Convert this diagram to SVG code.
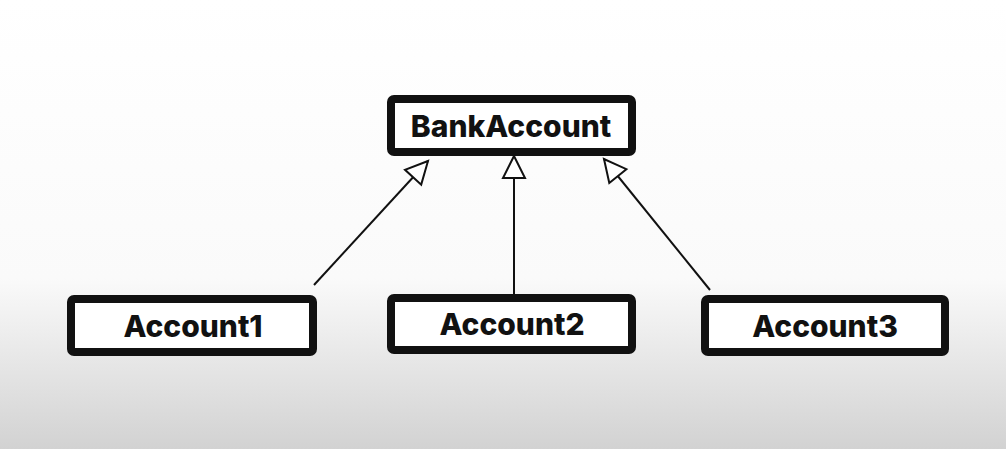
<svg xmlns="http://www.w3.org/2000/svg" width="1006" height="449" viewBox="0 0 1006 449">
<defs>
<linearGradient id="bg" x1="0" y1="0" x2="0" y2="1">
<stop offset="0" stop-color="#ffffff"/>
<stop offset="0.62" stop-color="#fafafa"/>
<stop offset="1" stop-color="#d2d2d2"/>
</linearGradient>
<marker id="tri" markerUnits="userSpaceOnUse" markerWidth="30" markerHeight="30" viewBox="-26 -14 30 28" refX="0" refY="0" orient="auto">
<path d="M0,0 L-22,-11 L-22,11 Z" fill="#fff" stroke="#111" stroke-width="2" stroke-linejoin="miter"/>
</marker>
<style>
.box{fill:#fff;stroke:#111;stroke-width:8;}
.lbl{font-family:Inter,"Liberation Sans",sans-serif;font-weight:800;font-size:30px;fill:#111;text-anchor:middle;}
.conn{stroke:#111;stroke-width:2;fill:none;}
</style>
</defs>
<rect x="0" y="0" width="1006" height="449" fill="url(#bg)"/>
<g id="connectors">
<line class="conn" x1="314" y1="285" x2="428" y2="161" marker-end="url(#tri)"/>
<line class="conn" x1="514" y1="294" x2="514" y2="156" marker-end="url(#tri)"/>
<line class="conn" x1="710" y1="290" x2="604" y2="159" marker-end="url(#tri)"/>
</g>
<g id="BankAccount">
<rect class="box" x="391" y="99" width="241" height="53" rx="3"/>
<text class="lbl" x="511" y="137">BankAccount</text>
</g>
<g id="Account1">
<rect class="box" x="71" y="299" width="242" height="53" rx="3"/>
<text class="lbl" x="193" y="337">Account1</text>
</g>
<g id="Account2">
<rect class="box" x="391" y="298" width="241" height="52" rx="3"/>
<text class="lbl" x="512" y="335">Account2</text>
</g>
<g id="Account3">
<rect class="box" x="705" y="299" width="240" height="53" rx="3"/>
<text class="lbl" x="825" y="337">Account3</text>
</g>
</svg>
